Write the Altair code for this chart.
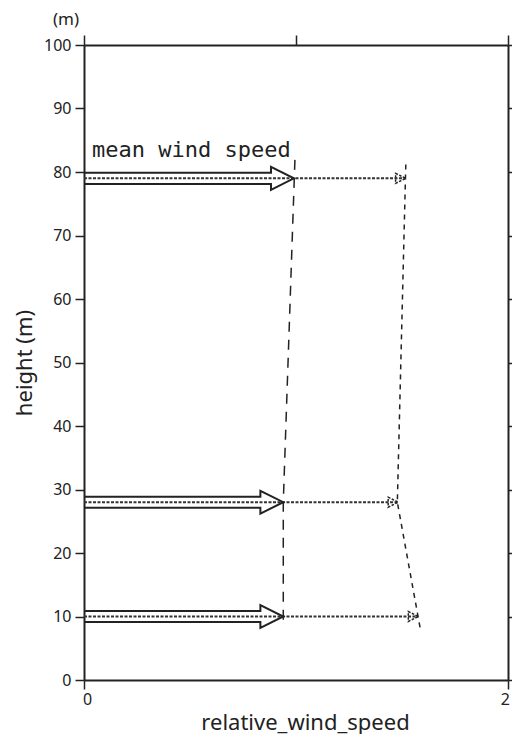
import altair as alt
import pandas as pd

# ---- data ----
heights = [10, 28, 79]                 # arrow heights (m)
mean_speed = [0.94, 0.94, 0.99]        # thick arrow tips (relative speed)
gust_speed = [1.577, 1.482, 1.517]     # thin dashed arrow tips

mean_prof_h = [9.5, 28, 82]
mean_prof_v = [0.94, 0.94, 0.995]
gust_prof_h = [8.3, 28, 81.3]
gust_prof_v = [1.585, 1.478, 1.518]

x_ticks = [0, 1, 2]
y_ticks = [0, 10, 20, 30, 40, 50, 60, 70, 80, 90, 100]

# ---- styles ----
INK = "#222222"
SHAFT = 0.87    # half shaft thickness (m)
HEAD_H = 1.8    # half head height (m)
HEAD_L = 0.108  # head length (relative speed)

rows = []
for i, (h, e) in enumerate(zip(heights, mean_speed)):
    pts = [(0, h + SHAFT), (e - HEAD_L, h + SHAFT), (e - HEAD_L, h + HEAD_H), (e, h),
           (e - HEAD_L, h - HEAD_H), (e - HEAD_L, h - SHAFT), (0, h - SHAFT)]
    for k, (px, py) in enumerate(pts):
        rows.append({"arrow": i, "k": k, "x": px, "y": py})
arrows = pd.DataFrame(rows)

thin = pd.DataFrame(
    [{"arrow": i, "k": 0, "x": 0, "y": h} for i, h in enumerate(heights)]
    + [{"arrow": i, "k": 1, "x": g, "y": h} for i, (h, g) in enumerate(zip(heights, gust_speed))]
)
heads = pd.DataFrame({"x": gust_speed, "y": heights})
mean_prof = pd.DataFrame({"x": mean_prof_v, "y": mean_prof_h})
gust_prof = pd.DataFrame({"x": gust_prof_v, "y": gust_prof_h})
label_df = pd.DataFrame({"x": [0.038], "y": [82.4], "t": ["mean wind speed"]})
unit_df = pd.DataFrame({"x": [0], "y": [100], "t": ["(m)"]})

xs = alt.Scale(domain=[0, 2], nice=False, zero=False)
ys = alt.Scale(domain=[0, 100], nice=False, zero=False)

FONT = "Noto Sans"

x_axis = alt.Axis(values=x_ticks, title="relative_wind_speed", titleFontSize=22,
                  titleFont=FONT, titleFontWeight="normal", titleColor=INK,
                  titleX=221, titleY=49, titleBaseline="alphabetic", titleAlign="center",
                  labelFont=FONT, labelFontSize=16, labelColor=INK, labelPadding=2,
                  tickSize=9, tickWidth=1.5, tickColor=INK, domainColor=INK, domainWidth=2,
                  grid=False, format="d", labelFlush=True, labelFlushOffset=1.5)
y_axis = alt.Axis(values=y_ticks, title="height (m)", titleFontSize=22,
                  titleFont=FONT, titleFontWeight="normal", titleColor=INK,
                  titleX=-53, titleY=317.5, titleAngle=-90, titleBaseline="alphabetic",
                  titleAlign="center",
                  labelFont=FONT, labelFontSize=16, labelColor=INK, labelPadding=4,
                  tickSize=9, tickWidth=1.5, tickColor=INK, domainColor=INK, domainWidth=2,
                  grid=False, format="d", labelFlush=False)
x_top = alt.Axis(orient="top", values=x_ticks, labels=False, title=None, tickSize=10,
                 tickWidth=1.5, tickColor=INK, domainColor=INK, domainWidth=2, grid=False)
y_right = alt.Axis(orient="right", values=y_ticks, labels=False, title=None, tickSize=10,
                   tickWidth=1.5, tickColor=INK, domainColor=INK, domainWidth=2, grid=False)

arrow_layer = alt.Chart(arrows).mark_line(color=INK, strokeWidth=2).encode(
    x=alt.X("x:Q", scale=xs, axis=x_axis),
    y=alt.Y("y:Q", scale=ys, axis=y_axis),
    detail="arrow:N",
    order="k:Q",
)

frame_layer = alt.Chart(heads).mark_point(opacity=0).encode(
    x=alt.X("x:Q", scale=xs, axis=x_top),
    y=alt.Y("y:Q", scale=ys, axis=y_right),
)

thin_layer = alt.Chart(thin).mark_line(color="#333333", strokeWidth=2, strokeDash=[3, 1.5]).encode(
    x=alt.X("x:Q", scale=xs, axis=None),
    y=alt.Y("y:Q", scale=ys, axis=None),
    detail="arrow:N",
    order="k:Q",
)

head_layer = alt.Chart(heads).mark_point(
    shape="M-2,-1L0,0L-2,1Z", size=100, filled=False, color=INK, opacity=1,
    strokeWidth=1.5, strokeDash=[2.5, 1.5]
).encode(
    x=alt.X("x:Q", scale=xs, axis=None),
    y=alt.Y("y:Q", scale=ys, axis=None),
)

mean_layer = alt.Chart(mean_prof).mark_line(color=INK, strokeWidth=1.5, strokeDash=[10, 8]).encode(
    x=alt.X("x:Q", scale=xs, axis=None),
    y=alt.Y("y:Q", scale=ys, axis=None),
    order="y:Q",
)

gust_layer = alt.Chart(gust_prof).mark_line(color=INK, strokeWidth=1.5, strokeDash=[5, 5]).encode(
    x=alt.X("x:Q", scale=xs, axis=None),
    y=alt.Y("y:Q", scale=ys, axis=None),
    order="y:Q",
)

label_layer = alt.Chart(label_df).mark_text(
    font="DejaVu Sans Mono", fontSize=22, color=INK, align="left", baseline="alphabetic"
).encode(
    x=alt.X("x:Q", scale=xs, axis=None),
    y=alt.Y("y:Q", scale=ys, axis=None),
    text="t:N",
)

unit_layer = alt.Chart(unit_df).mark_text(
    font=FONT, fontSize=17, color=INK, align="center", baseline="middle", dx=-18, dy=-25
).encode(
    x=alt.X("x:Q", scale=xs, axis=None),
    y=alt.Y("y:Q", scale=ys, axis=None),
    text="t:N",
)

chart = alt.layer(
    mean_layer, gust_layer, thin_layer, arrow_layer, head_layer, label_layer, unit_layer, frame_layer
).resolve_axis(x="independent", y="independent").properties(
    width=424, height=635,
    padding={"left": 76, "top": 37, "right": 4, "bottom": 54},
    autosize="none",
).configure_view(stroke=None).configure(background="white")

chart.save("out.html", embed_options={"renderer": "svg", "actions": False})
